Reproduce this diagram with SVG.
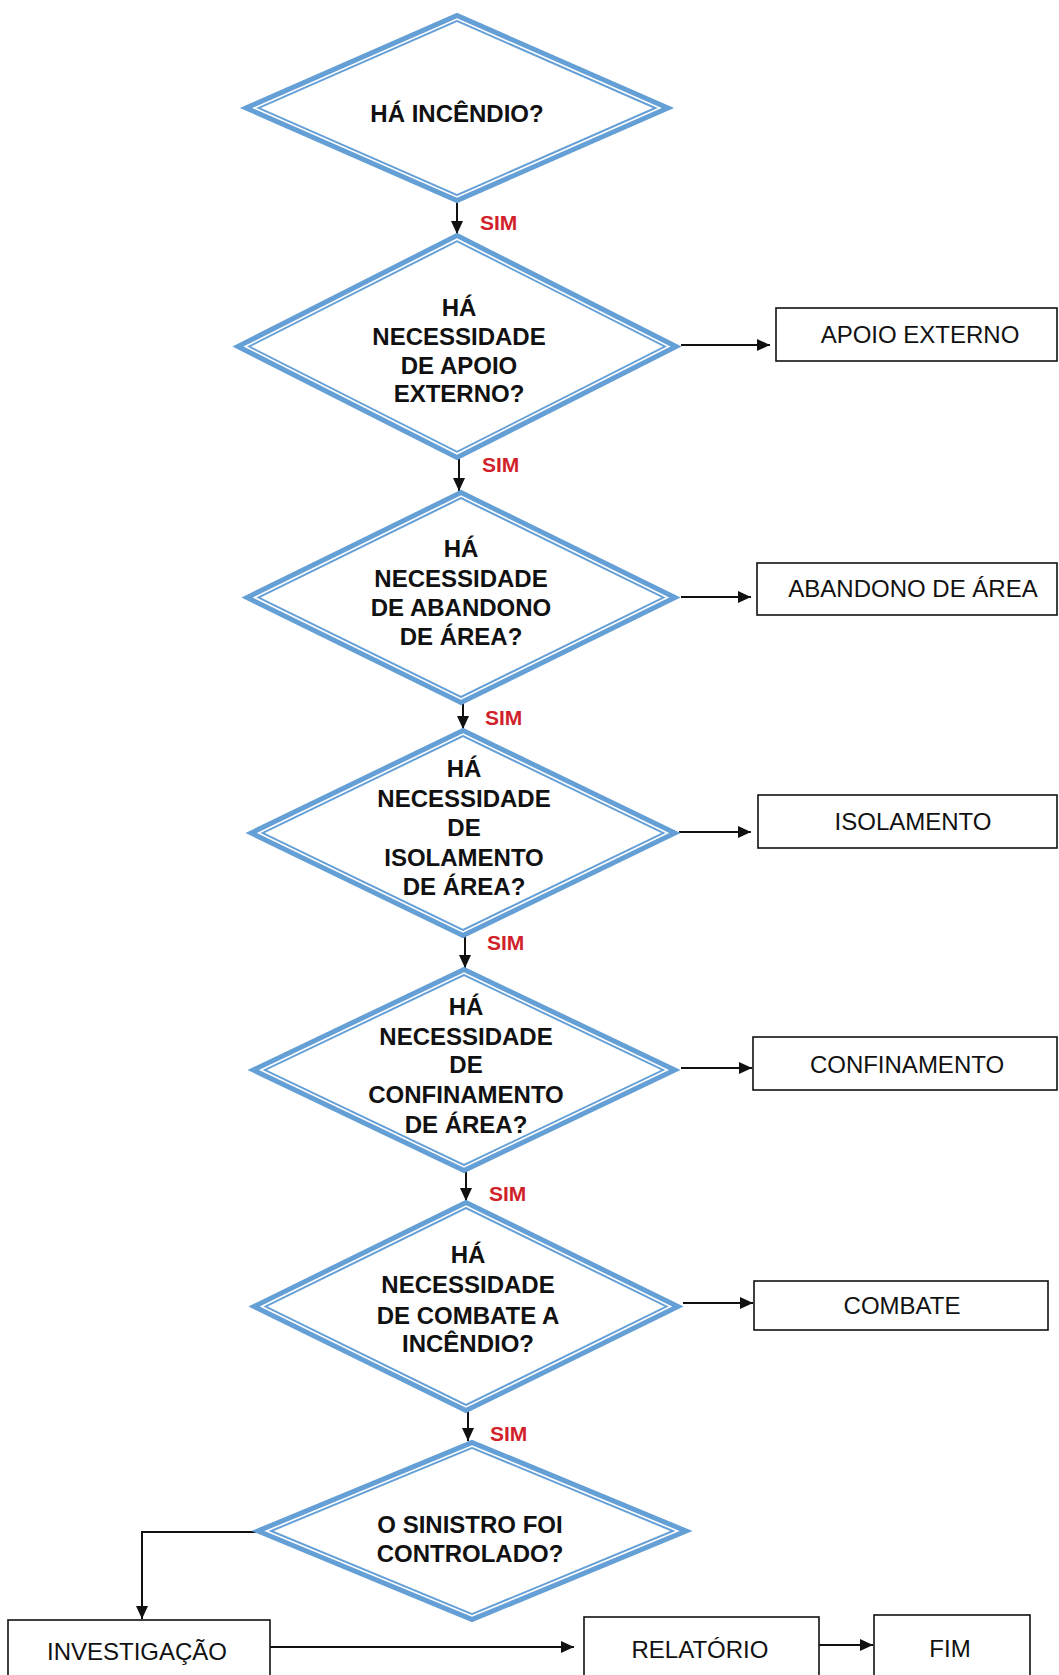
<svg xmlns="http://www.w3.org/2000/svg" width="1059" height="1675" viewBox="0 0 1059 1675">
<style>
.band{fill:#fff;stroke:#649fd5;stroke-width:8.5;stroke-linejoin:miter}
.gap{fill:none;stroke:#fff;stroke-width:1.6;stroke-linejoin:miter}
.q{font-family:"Liberation Sans",Arial,sans-serif;font-weight:bold;font-size:24px;fill:#111;text-anchor:middle}
.box{fill:#fff;stroke:#111;stroke-width:1.6}
.bt{font-family:"Liberation Sans",Arial,sans-serif;font-size:24px;fill:#111;text-anchor:middle}
.sim{font-family:"Liberation Sans",Arial,sans-serif;font-weight:bold;font-size:21px;fill:#d11f2c}
.c{fill:none;stroke:#111;stroke-width:2}
</style>
<defs>
<marker id="ah" markerUnits="userSpaceOnUse" markerWidth="14" markerHeight="12" refX="13" refY="6" orient="auto">
<path d="M0,0 L13,6 L0,12 Z" fill="#111"/>
</marker>
</defs>
<rect width="1059" height="1675" fill="#fff"/>

<g id="connectors">
<line class="c" x1="457" y1="200" x2="457" y2="234" marker-end="url(#ah)"/>
<line class="c" x1="459" y1="457" x2="459" y2="491" marker-end="url(#ah)"/>
<line class="c" x1="463" y1="702" x2="463" y2="729" marker-end="url(#ah)"/>
<line class="c" x1="465" y1="935" x2="465" y2="968" marker-end="url(#ah)"/>
<line class="c" x1="466" y1="1170" x2="466" y2="1201" marker-end="url(#ah)"/>
<line class="c" x1="468" y1="1410" x2="468" y2="1441" marker-end="url(#ah)"/>
<line class="c" x1="681" y1="345" x2="770" y2="345" marker-end="url(#ah)"/>
<line class="c" x1="681" y1="597" x2="751" y2="597" marker-end="url(#ah)"/>
<line class="c" x1="679" y1="832" x2="751" y2="832" marker-end="url(#ah)"/>
<line class="c" x1="681" y1="1068" x2="752" y2="1068" marker-end="url(#ah)"/>
<line class="c" x1="683" y1="1303" x2="753" y2="1303" marker-end="url(#ah)"/>
<polyline class="c" points="256,1532 142,1532 142,1619" marker-end="url(#ah)"/>
<line class="c" x1="270" y1="1647" x2="574" y2="1647" marker-end="url(#ah)"/>
<line class="c" x1="819" y1="1645" x2="873" y2="1645" marker-end="url(#ah)"/>
<text class="sim" x="480" y="230">SIM</text>
<text class="sim" x="482" y="472">SIM</text>
<text class="sim" x="485" y="725">SIM</text>
<text class="sim" x="487" y="950">SIM</text>
<text class="sim" x="489" y="1201">SIM</text>
<text class="sim" x="490" y="1441">SIM</text>
</g>

<g id="d1">
<polygon class="band" points="250.5,108 457,17.4 663.5,108 457,198.6"/>
<polygon class="gap" points="254.2,108 457,19 659.8,108 457,197"/>
<text class="q" x="457" y="122">HÁ INCÊNDIO?</text>
</g>
<g id="d2">
<polygon class="band" points="241.8,346.5 457,237.5 672.2,346.5 457,455.5"/>
<polygon class="gap" points="245.2,346.5 457,239.2 668.8,346.5 457,453.8"/>
<text class="q" x="459" y="316">HÁ</text>
<text class="q" x="459" y="345">NECESSIDADE</text>
<text class="q" x="459" y="374">DE APOIO</text>
<text class="q" x="459" y="402">EXTERNO?</text>
</g>
<g id="d3">
<polygon class="band" points="251.1,597.5 461,494.5 670.9,597.5 461,700.5"/>
<polygon class="gap" points="254.5,597.5 461,496.1 667.5,597.5 461,698.9"/>
<text class="q" x="461" y="557">HÁ</text>
<text class="q" x="461" y="587">NECESSIDADE</text>
<text class="q" x="461" y="616">DE ABANDONO</text>
<text class="q" x="461" y="645">DE ÁREA?</text>
</g>
<g id="d4">
<polygon class="band" points="255.2,833 463,732.4 670.8,833 463,933.6"/>
<polygon class="gap" points="258.6,833 463,734.1 667.4,833 463,931.9"/>
<text class="q" x="464" y="777">HÁ</text>
<text class="q" x="464" y="807">NECESSIDADE</text>
<text class="q" x="464" y="836">DE</text>
<text class="q" x="464" y="866">ISOLAMENTO</text>
<text class="q" x="464" y="895">DE ÁREA?</text>
</g>
<g id="d5">
<polygon class="band" points="257.3,1070 464,971.4 670.7,1070 464,1168.6"/>
<polygon class="gap" points="260.8,1070 464,973.1 667.2,1070 464,1166.9"/>
<text class="q" x="466" y="1015">HÁ</text>
<text class="q" x="466" y="1045">NECESSIDADE</text>
<text class="q" x="466" y="1073">DE</text>
<text class="q" x="466" y="1103">CONFINAMENTO</text>
<text class="q" x="466" y="1133">DE ÁREA?</text>
</g>
<g id="d6">
<polygon class="band" points="258.1,1306.5 466,1204.5 673.9,1306.5 466,1408.5"/>
<polygon class="gap" points="261.5,1306.5 466,1206.1 670.5,1306.5 466,1406.9"/>
<text class="q" x="468" y="1263">HÁ</text>
<text class="q" x="468" y="1293">NECESSIDADE</text>
<text class="q" x="468" y="1324">DE COMBATE A</text>
<text class="q" x="468" y="1352">INCÊNDIO?</text>
</g>
<g id="d7">
<polygon class="band" points="262.5,1531 472,1444.3 681.5,1531 472,1617.7"/>
<polygon class="gap" points="266.4,1531 472,1446 677.6,1531 472,1616"/>
<text class="q" x="470" y="1533">O SINISTRO FOI</text>
<text class="q" x="470" y="1562">CONTROLADO?</text>
</g>

<g id="apoio">
<rect class="box" x="776" y="308" width="281" height="53"/>
<text class="bt" x="920" y="343">APOIO EXTERNO</text>
</g>
<g id="abandono">
<rect class="box" x="757" y="563" width="300" height="52"/>
<text class="bt" x="913" y="597">ABANDONO DE ÁREA</text>
</g>
<g id="isolamento">
<rect class="box" x="758" y="795" width="299" height="53"/>
<text class="bt" x="913" y="830">ISOLAMENTO</text>
</g>
<g id="confinamento">
<rect class="box" x="753" y="1037" width="304" height="53"/>
<text class="bt" x="907" y="1073">CONFINAMENTO</text>
</g>
<g id="combate">
<rect class="box" x="754" y="1281" width="294" height="49"/>
<text class="bt" x="902" y="1314">COMBATE</text>
</g>
<g id="investigacao">
<rect class="box" x="8" y="1620" width="262" height="62"/>
<text class="bt" x="137" y="1660">INVESTIGAÇÃO</text>
</g>
<g id="relatorio">
<rect class="box" x="584" y="1617" width="235" height="62"/>
<text class="bt" x="700" y="1658">RELATÓRIO</text>
</g>
<g id="fim">
<rect class="box" x="874" y="1615" width="156" height="64"/>
<text class="bt" x="950" y="1657">FIM</text>
</g>
</svg>
